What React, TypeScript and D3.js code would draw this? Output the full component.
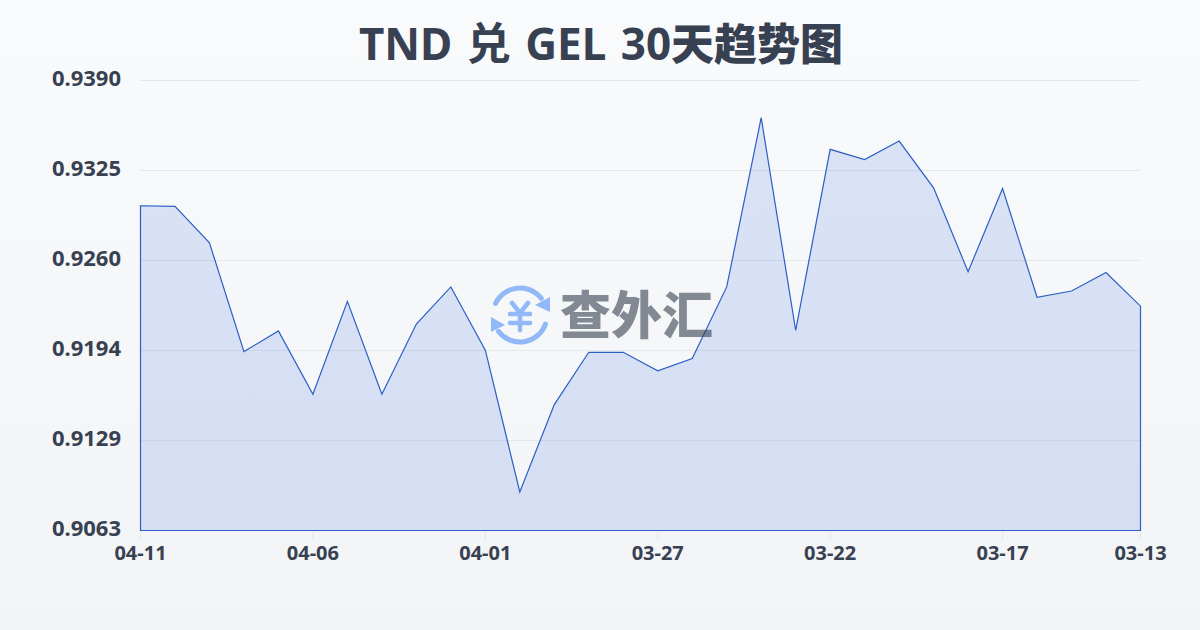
import * as d3 from "d3";

const dates = ["04-11","04-10","04-09","04-08","04-07","04-06","04-05","04-04","04-03","04-02","04-01","03-31","03-30","03-29","03-28","03-27","03-26","03-25","03-24","03-23","03-22","03-21","03-20","03-19","03-18","03-17","03-16","03-15","03-14","03-13"];
const rates = [0.9299,0.92985,0.9272,0.9193,0.9208,0.9162,0.92295,0.9162,0.9213,0.9240,0.9194,0.9091,0.91545,0.91925,0.91925,0.9179,0.9188,0.9240,0.9363,0.92085,0.9340,0.93326,0.9346,0.9312,0.9251,0.93115,0.92325,0.9237,0.92505,0.9226];
const yTicks = [0.939,0.93246,0.92592,0.91938,0.91284,0.9063];
const yLabels = ["0.9390","0.9325","0.9260","0.9194","0.9129","0.9063"];
const xTicks = ["04-11","04-06","04-01","03-27","03-22","03-17","03-13"];

const font = "'Noto Sans', 'Noto Sans CJK SC', sans-serif";
const textColor = "#374151";

export default function App() {
  const x = d3.scalePoint<string>().domain(dates).range([140.5, 1140.5]);
  const y = d3.scaleLinear().domain([0.9063, 0.939]).range([530.5, 80.5]);
  const points: [number, number][] = rates.map((r, i) => [x(dates[i]) as number, y(r)]);
  const area = d3.area<[number, number]>().x((d) => d[0]).y0(530.5).y1((d) => d[1]);
  const ring = d3.arc().cornerRadius(2.5);
  const arc1 = ring({ innerRadius: 24.5, outerRadius: 29.5, startAngle: -1.22, endAngle: 1.0 }) || undefined;
  const arc2 = ring({ innerRadius: 24.5, outerRadius: 29.5, startAngle: 1.82, endAngle: 4.15 }) || undefined;
  return (
    <svg width={1200} height={630} style={{ position: "absolute", left: 0, top: 0 }} fontFamily={font}>
      <defs>
        <linearGradient id="bg" x1="0" y1="0" x2="0" y2="1">
          <stop offset="0" stopColor="#f9fafc" />
          <stop offset="1" stopColor="#f3f4f6" />
        </linearGradient>
      </defs>
      <rect width={1200} height={630} fill="url(#bg)" />
      <text x={601} y={60} textAnchor="middle" fontSize={44} fontWeight={700} fill={textColor} wordSpacing={3}>
        TND 兑 GEL 30<tspan fontSize={43} fontWeight={900}>天趋势图</tspan>
      </text>
      {yTicks.map((t, i) => (
        <g key={t}>
          <line x1={140} x2={1140} y1={Math.floor(y(t)) + 0.5} y2={Math.floor(y(t)) + 0.5} stroke="#e5e7eb" />
          <text x={121} y={y(t)} dy={5.5} textAnchor="end" fontSize={22} fontWeight={700} fill={textColor}>{yLabels[i]}</text>
        </g>
      ))}
      {xTicks.map((t) => (
        <g key={t}>
          <line x1={x(t)} x2={x(t)} y1={530} y2={540} stroke="#e5e7eb" />
          <text x={x(t)} y={560} textAnchor="middle" fontSize={20} fontWeight={700} fill={textColor}>{t}</text>
        </g>
      ))}
      <path d={area(points) || undefined} fill="#2f5fe0" fillOpacity={0.15} stroke="#2b5fc4" strokeWidth={1.2} />
      <g opacity={0.6}>
        <g transform="translate(520,315)" fill="#4f8ff7">
          <path d={arc1} />
          <path d={arc2} />
          <path d="M30,-18 L30,-3 L15,-10 Z" />
          <path d="M-29,2 L-15,10 L-29,17 Z" />
          <path d="M-8,-12 L0,-2 L8,-12 M-10,-1 H10 M-10,8 H10 M0,-2 V15" fill="none" stroke="#4f8ff7" strokeWidth={4.5} strokeLinecap="round" strokeLinejoin="round" />
        </g>
        <text x={560} y={334} fontSize={51} fontWeight={900} fill="#374151" fontFamily="'Noto Sans CJK SC'">查外汇</text>
      </g>
    </svg>
  );
}
